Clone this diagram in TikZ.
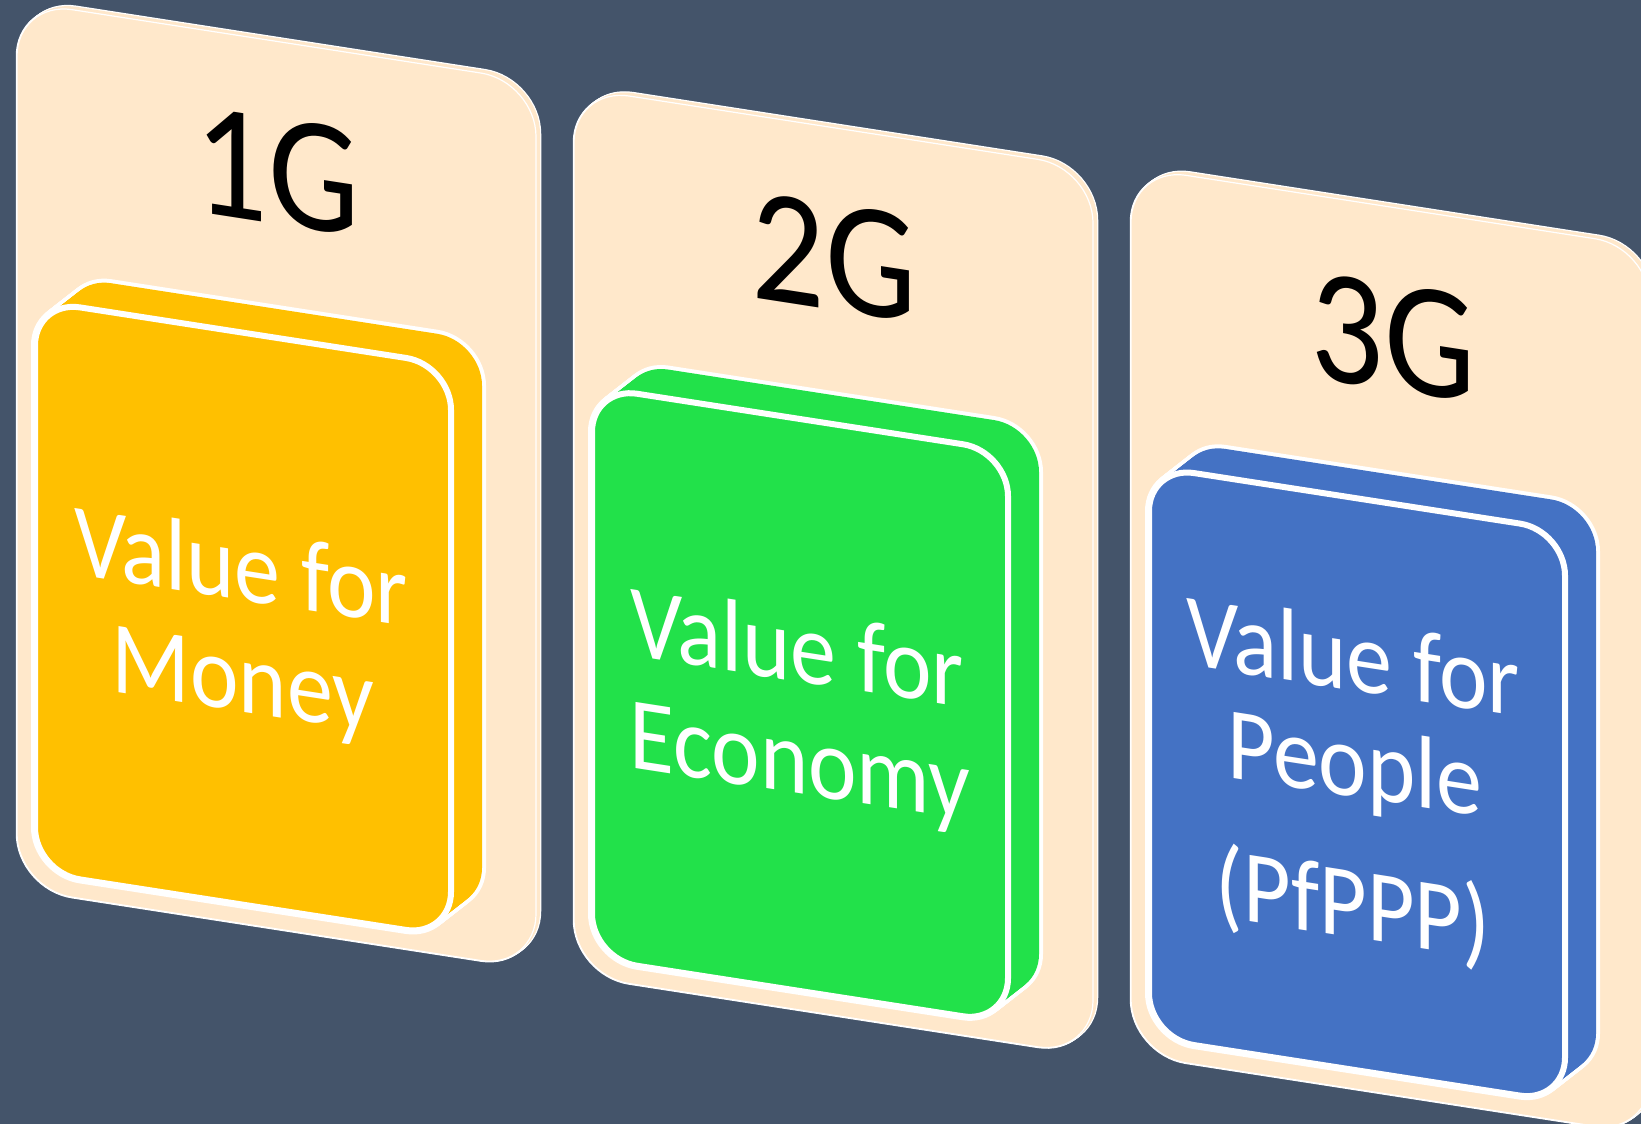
\documentclass[tikz,border=0pt]{standalone}
\usepackage{fontspec}
\setmainfont{Carlito}
\definecolor{bgc}{HTML}{44546A}
\definecolor{beige}{HTML}{FFE8CB}
\definecolor{cyel}{HTML}{FFC000}
\definecolor{cgrn}{HTML}{22E14A}
\definecolor{cblu}{HTML}{4472C4}
% rounded rectangle path: x1, ytop, x2, ybottom, radius
\newcommand\rrect[5]{(#1+#5,#2) -- (#3-#5,#2) arc[start angle=90,end angle=0,radius=#5] -- (#3,#4+#5) arc[start angle=0,end angle=-90,radius=#5] -- (#1+#5,#4) arc[start angle=270,end angle=180,radius=#5] -- (#1,#2-#5) arc[start angle=180,end angle=90,radius=#5] -- cycle}
\newcommand\drawpanel[1]{%
  \foreach \k in {0,...,4}{\filldraw[white,line width=2.5,shift={(\k,0.875*\k)}] \rrect{17}{1.5}{536}{-886}{55};}
  \foreach \k in {0,...,4}{\fill[beige,shift={(\k,0.875*\k)}] \rrect{17}{1.5}{536}{-886}{55};}
  \filldraw[fill=beige,draw=white,line width=1.2] \rrect{17}{1.5}{536}{-886}{55};
  \foreach \k in {0,...,20}{\filldraw[white,line width=8,shift={(31*\k/20,29*\k/20)}] \rrect{35}{-295}{451}{-867}{45};}
  \foreach \k in {0,...,20}{\fill[#1,shift={(31*\k/20,29*\k/20)}] \rrect{35}{-295}{451}{-867}{45};}
  \filldraw[fill=#1,draw=white,line width=6] \rrect{35}{-295}{451}{-867}{45};
}
\tikzset{
  head/.style={font=\fontsize{145}{145}\selectfont, text=black, anchor=base, inner sep=0pt, transform shape, yscale=1.13},
  body/.style={font=\fontsize{92}{92}\selectfont, text=white, anchor=base, inner sep=0pt, transform shape, yscale=1.12}
}
\begin{document}
\begin{tikzpicture}[x=1pt,y=1pt]
\useasboundingbox (0,0) rectangle (1641,-1124);
\clip (0,0) rectangle (1641,-1124);
\fill[bgc] (0,0) rectangle (1641,-1124);
% panel 1
\begin{scope}[yslant=-0.155]
  \drawpanel{cyel}
  \node[head] (h1) at (277,-181) {1G};
  \node[body] (p1a) at (241,-563) {Value for};
  \node[body] (p1b) at (243,-674) {Money};
\end{scope}
% panel 2
\begin{scope}[yslant=-0.155, shift={(557,0)}]
  \drawpanel{cgrn}
  \node[head] (h2) at (277,-181) {2G};
  \node[body] (p2a) at (240,-558) {Value for};
  \node[body] (p2b) at (243,-670) {Economy};
\end{scope}
% panel 3
\begin{scope}[yslant=-0.155, shift={(1114,7)}]
  \drawpanel{cblu}
  \node[head] (h3) at (279,-181) {3G};
  \node[body] (p3a) at (239,-488) {Value for};
  \node[body] (p3b) at (241,-594) {People};
  \node[body] (p3c) at (239,-735) {(PfPPP)};
\end{scope}
\end{tikzpicture}
\end{document}
